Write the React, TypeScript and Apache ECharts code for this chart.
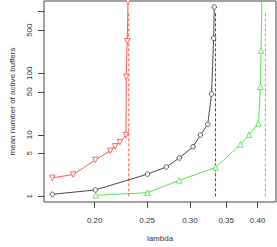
import React, { useEffect, useRef } from "react";
import * as echarts from "echarts";

const redLambda = [0.167, 0.1825, 0.2005, 0.2137, 0.2182, 0.2227, 0.2285, 0.2288, 0.2297, 0.2305];
const redBuffers = [2.0, 2.26, 3.9, 5.5, 6.5, 7.6, 9.9, 87, 330, 1450];

const blackLambda = [0.167, 0.2005, 0.2505, 0.2713, 0.2867, 0.304, 0.3137, 0.3236, 0.329, 0.3318, 0.3327];
const blackBuffers = [1.08, 1.27, 2.3, 3.0, 4.2, 6.4, 9.9, 14.8, 46, 370, 1190];

const greenLambda = [0.2009, 0.2505, 0.2866, 0.3346, 0.372, 0.386, 0.4015, 0.405, 0.406, 0.408];
const greenBuffers = [1.04, 1.15, 1.82, 2.94, 6.96, 10.1, 15.3, 60.6, 234, 3000];

const limitLambda = [0.2312, 0.3345, 0.4137];
const limitRange = [1, 1000];

const xTicks = [0.2, 0.25, 0.3, 0.35, 0.4];
const yTicks = [1, 5, 10, 50, 100, 500, 1000];
const yLabels = [1, 5, 10, 50, 100, 500];

const RED = "#ff4444";
const BLACK = "#333333";
const GREEN = "#44dd44";
const FONT = "Liberation Sans, Arial, sans-serif";

const pairs = (xs: number[], ys: number[]) => xs.map((x, i) => [x, ys[i]]);

export default function App() {
  const ref = useRef<HTMLDivElement>(null);
  useEffect(() => {
    if (!ref.current) return;
    const chart = echarts.init(ref.current, null, { renderer: "svg" });
    const seriesLine = (data: number[][], color: string, symbol: string, size: number, rotate = 0) => ({
      type: "line",
      data,
      symbol,
      symbolSize: size,
      symbolRotate: rotate,
      showSymbol: true,
      clip: true,
      lineStyle: { color, width: 0.9 },
      itemStyle: { color: "#ffffff", borderColor: color, borderWidth: 0.8 },
      emphasis: { disabled: true },
      z: 3,
    });
    const dashed = (x: number, color: string) => ({
      type: "line",
      data: limitRange.map((y) => [x, y]),
      symbol: "none",
      lineStyle: { color, width: 0.9, type: [3, 2] },
      emphasis: { disabled: true },
      z: 2,
    });
    chart.setOption({
      animation: false,
      grid: {
        left: 38,
        top: 1,
        right: 1,
        bottom: 39,
        show: true,
        borderColor: "#444",
        borderWidth: 1,
        backgroundColor: "transparent",
      },
      xAxis: {
        type: "log",
        logBase: 10,
        min: 0.1612,
        max: 0.4327,
        name: "lambda",
        nameLocation: "middle",
        nameGap: 32,
        nameTextStyle: { fontFamily: FONT, fontSize: 8, color: "#333" },
        axisLine: { show: false },
        splitLine: { show: false },
        minorTick: { show: false },
        axisTick: {
          show: true,
          length: 6,
          lineStyle: { color: "#444" },
          customValues: xTicks,
        },
        axisLabel: {
          fontFamily: FONT,
          fontSize: 8,
          color: "#333",
          margin: 14,
          customValues: xTicks,
          formatter: (v: number) => v.toFixed(2),
        },
      },
      yAxis: {
        type: "log",
        logBase: 10,
        min: 0.81,
        max: 1490,
        name: "mean number of active buffers",
        nameLocation: "middle",
        nameGap: 28,
        nameTextStyle: { fontFamily: FONT, fontSize: 8, color: "#333" },
        axisLine: { show: false },
        splitLine: { show: false },
        minorTick: { show: false },
        axisTick: {
          show: true,
          length: 6,
          lineStyle: { color: "#444" },
          customValues: yTicks,
        },
        axisLabel: {
          fontFamily: FONT,
          fontSize: 8,
          color: "#333",
          rotate: 90,
          margin: 11,
          customValues: yLabels,
          formatter: (v: number) => String(Math.round(v)),
        },
      },
      series: [
        dashed(limitLambda[0], RED),
        dashed(limitLambda[1], BLACK),
        dashed(limitLambda[2], GREEN),
        seriesLine(pairs(redLambda, redBuffers), RED, "triangle", 5.5, 180),
        seriesLine(pairs(blackLambda, blackBuffers), BLACK, "circle", 4.5),
        seriesLine(pairs(greenLambda, greenBuffers), GREEN, "triangle", 5.5),
      ],
    });
    return () => chart.dispose();
  }, []);
  return (
    <div
      ref={ref}
      style={{ position: "absolute", left: 0, top: 0, width: 277, height: 247, background: "#fff" }}
    />
  );
}
